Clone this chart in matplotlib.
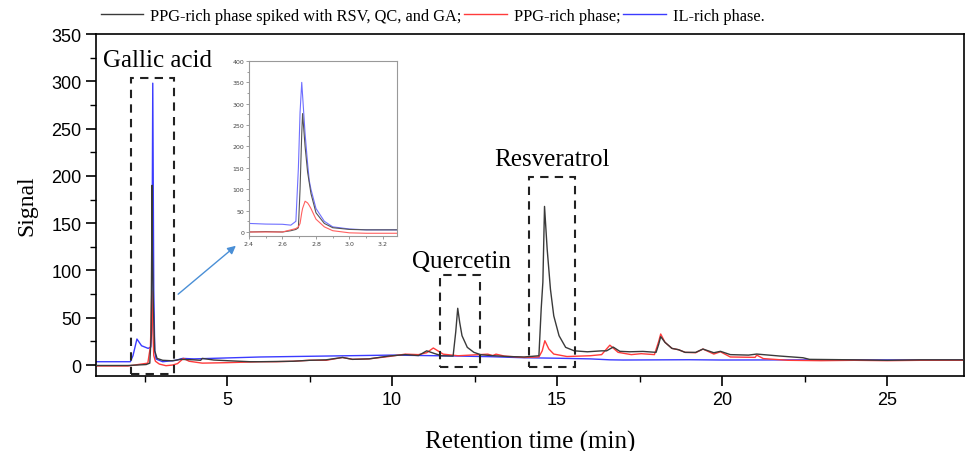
import matplotlib
matplotlib.use("Agg")
import matplotlib.pyplot as plt
from matplotlib.patches import Rectangle, FancyArrowPatch
from matplotlib.lines import Line2D
from matplotlib.ticker import MultipleLocator

# chromatogram traces (time in min, signal)
spiked_t = [1.03, 2.0, 2.55, 2.66, 2.70, 2.73, 2.74, 2.77, 2.81, 2.88, 3.05, 3.35, 3.6, 4.0, 4.2, 4.25,
            4.6, 5.0, 5.7, 6.0, 7.0, 7.5, 8.0, 8.5, 8.8, 9.3, 9.9, 10.4, 10.8, 11.05, 11.3, 11.5,
            11.85, 11.93, 11.99, 12.05, 12.12, 12.28, 12.48, 12.69, 13.0, 13.5, 14.0, 14.45, 14.52,
            14.57, 14.62, 14.70, 14.80, 14.90, 15.06, 15.26, 15.52, 15.92, 16.35, 16.5, 16.7, 16.9,
            17.2, 17.6, 18.0, 18.08, 18.14, 18.27, 18.48, 18.68, 18.88, 19.2, 19.42, 19.75, 19.95,
            20.25, 20.8, 21.05, 21.75, 22.45, 22.65, 24.0, 25.0, 26.0, 27.33]
spiked_y = [-0.5, -0.5, 0.5, 2, 30, 190, 120, 60, 15, 7, 5, 4.5, 6, 5.5, 5, 7,
            5.3, 4.6, 3.5, 3.5, 4, 5, 5.5, 8, 6, 6.5, 9.5, 11, 10, 15, 12, 9.8,
            9.5, 35, 60, 45, 31, 18.7, 13.4, 10.9, 10, 9, 8.5, 9.8, 60,
            87.6, 167.7, 122.6, 80, 52, 31, 18.7, 15, 14, 15, 15, 19, 14.5,
            14, 14.4, 13.4, 22, 30, 24, 17.6, 16.2, 13.4, 13.4, 16.9, 13, 14.5,
            11, 10.5, 11.6, 9.5, 7.7, 6, 5.5, 5, 5.5, 5.5]

ppg_t = [1.03, 2.0, 2.6, 2.68, 2.72, 2.75, 2.78, 2.83, 2.95, 3.15, 3.35, 3.5, 3.68, 3.85, 4.25,
         5.0, 5.5, 6.0, 6.5, 7.0, 7.5, 8.0, 8.5, 8.8, 9.3, 9.9, 10.4, 10.8, 11.05, 11.25, 11.55,
         12.0, 12.9, 13.05, 13.15, 13.4, 14.0, 14.45, 14.55, 14.63, 14.75, 14.9, 15.3, 16.0,
         16.35, 16.6, 16.85, 17.25, 17.55, 17.95, 18.08, 18.14, 18.27, 18.48, 18.68, 18.88,
         19.2, 19.42, 19.75, 19.95, 20.25, 21.0, 21.05, 21.25, 22.0, 23.0, 24.0, 25.0, 26.0, 27.33]
ppg_y = [-1, -1, 2, 20, 78, 40, 10, 4, 1, -0.7, 0, 1.5, 7, 4, 2,
         2.5, 3, 3.5, 3.5, 4, 5, 5, 8, 6, 6.5, 9, 11.5, 11, 13, 18, 11.5,
         9.8, 11.5, 10, 11.5, 9.5, 8, 8.5, 15, 25.7, 17, 11.6, 9, 9.8,
         11, 21, 13.4, 11, 12, 11, 25, 32.8, 24, 17.6, 16.2, 13.4,
         13, 16.9, 11.6, 14, 8.5, 8.1, 10.5, 6.8, 5, 4.6, 5, 4.6, 5, 5]

il_t = [1.03, 2.07, 2.15, 2.27, 2.41, 2.61, 2.69, 2.72, 2.75, 2.78, 2.81, 2.85, 3.05, 3.35, 3.45,
        3.65, 4.0, 5.0, 6.0, 7.0, 8.0, 9.0, 10.0, 11.0, 12.0, 13.0, 14.0, 15.0, 16.0, 16.6,
        17.0, 19.0, 20.0, 23.0, 27.33]
il_y = [3.5, 3.5, 9.8, 27.5, 20.4, 17.6, 19, 40, 298, 80, 15, 6.3, 3.5, 4.6, 5,
        7, 6.5, 7.5, 8.5, 9, 9.5, 10, 10.5, 10, 9.5, 8.8, 7.7, 7.2, 6.5, 5.5,
        5.3, 5.6, 5.3, 5.5, 5.3]

# zoomed gallic acid peak (inset)
inset_t = [2.4, 2.5, 2.6, 2.65, 2.68, 2.695, 2.705, 2.715, 2.72, 2.735, 2.75, 2.76, 2.77,
           2.8, 2.85, 2.9, 3.0, 3.1, 3.3]
inset_spiked = [0, 1, 0, 3, 6, 10, 100, 230, 277, 200, 140, 115, 90, 45, 20, 10, 6, 5, 5]
inset_ppg = [0, 0, 0, 5, 8, 12, 20, 45, 55, 72, 68, 62, 55, 30, 12, 3, -2, -3, -3]
inset_il = [20, 18.5, 18, 16, 25, 150, 280, 350, 320, 230, 160, 120, 100, 55, 25, 12, 7, 5, 5]

series_names = ["PPG-rich phase spiked with RSV, QC, and GA;", "PPG-rich phase;", "IL-rich phase."]
colors = ["#3a3a3a", "#ff3b3b", "#3b3bff"]

fig = plt.figure(figsize=(9.66, 4.52), dpi=100)
ax = fig.add_axes([96 / 966, 1 - 377 / 452, 868 / 966, 342 / 452])

ax.plot(spiked_t, spiked_y, color=colors[0], lw=1.0, zorder=3)
ax.plot(ppg_t, ppg_y, color=colors[1], lw=1.0, zorder=2)
ax.plot(il_t, il_y, color=colors[2], lw=1.0, zorder=1)

ax.set_xlim(1.03, 27.33)
ax.set_ylim(-11.6, 350)
ax.xaxis.set_major_locator(MultipleLocator(5))
ax.xaxis.set_minor_locator(MultipleLocator(2.5))
ax.yaxis.set_major_locator(MultipleLocator(50))
ax.yaxis.set_minor_locator(MultipleLocator(25))
ax.tick_params(which="major", direction="out", length=7, width=1.2, labelsize=13)
ax.tick_params(which="minor", direction="out", length=4, width=1.0)
for lab in ax.get_xticklabels() + ax.get_yticklabels():
    lab.set_fontfamily("Liberation Sans")
for s in ax.spines.values():
    s.set_linewidth(1.2)

ax.set_xlabel("Retention time (min)", fontfamily="Liberation Serif", fontsize=18, labelpad=16)
ax.set_ylabel("Signal", fontfamily="Liberation Serif", fontsize=17, labelpad=10)

# dashed boxes around the peaks
boxes = [(2.09, -9.5, 3.39, 303.5), (11.45, -2.1, 12.67, 95.2), (14.15, -2.4, 15.55, 198.5)]
for x0, y0, x1, y1 in boxes:
    ax.add_patch(Rectangle((x0, y0), x1 - x0, y1 - y0, fill=False, ls=(0, (4, 3)),
                           lw=1.5, ec="#222222", zorder=5, clip_on=False))

ax.text(2.9, 323, "Gallic acid", ha="center", va="center", fontsize=18, fontfamily="Liberation Serif")
ax.text(12.1, 110, "Quercetin", ha="center", va="center", fontsize=18, fontfamily="Liberation Serif")
ax.text(14.85, 218, "Resveratrol", ha="center", va="center", fontsize=18, fontfamily="Liberation Serif")

# inset
ins = fig.add_axes([249 / 966, 1 - 237 / 452, 148 / 966, 175 / 452])
ins.plot(inset_t, inset_il, color="#6f6fff", lw=0.8)
ins.plot(inset_t, inset_spiked, color="#555555", lw=0.8)
ins.plot(inset_t, inset_ppg, color="#ff6060", lw=0.8)
ins.set_xlim(2.4, 3.284)
ins.set_ylim(-9.4, 400)
ins.xaxis.set_major_locator(MultipleLocator(0.2))
ins.xaxis.set_minor_locator(MultipleLocator(0.1))
ins.yaxis.set_major_locator(MultipleLocator(50))
ins.yaxis.set_minor_locator(MultipleLocator(25))
ins.xaxis.set_major_formatter(plt.FuncFormatter(lambda v, p: "%.1f" % v))
ins.tick_params(which="both", labelsize=4.5, colors="#777777", labelcolor="#444444",
                length=2, width=0.5, pad=1.5)
ins.tick_params(which="minor", length=1.2)
for s in ins.spines.values():
    s.set_color("#999999")
    s.set_linewidth(0.8)

fig.add_artist(FancyArrowPatch((176 / 966, 1 - 297 / 452), (238 / 966, 1 - 245 / 452),
                               transform=fig.transFigure, arrowstyle="-|>", mutation_scale=12,
                               color="#4a8fd6", lw=1.0))

handles = [Line2D([], [], color=c, lw=1.0) for c in colors]
fig.legend(handles, series_names, loc="center left", bbox_to_anchor=(94 / 966, 1 - 17 / 452),
           ncol=3, frameon=False, prop={"family": "Liberation Serif", "size": 11.8},
           handlelength=2.6, handletextpad=0.4, columnspacing=0.2, borderaxespad=0)

fig.savefig("out.png", dpi=100)
